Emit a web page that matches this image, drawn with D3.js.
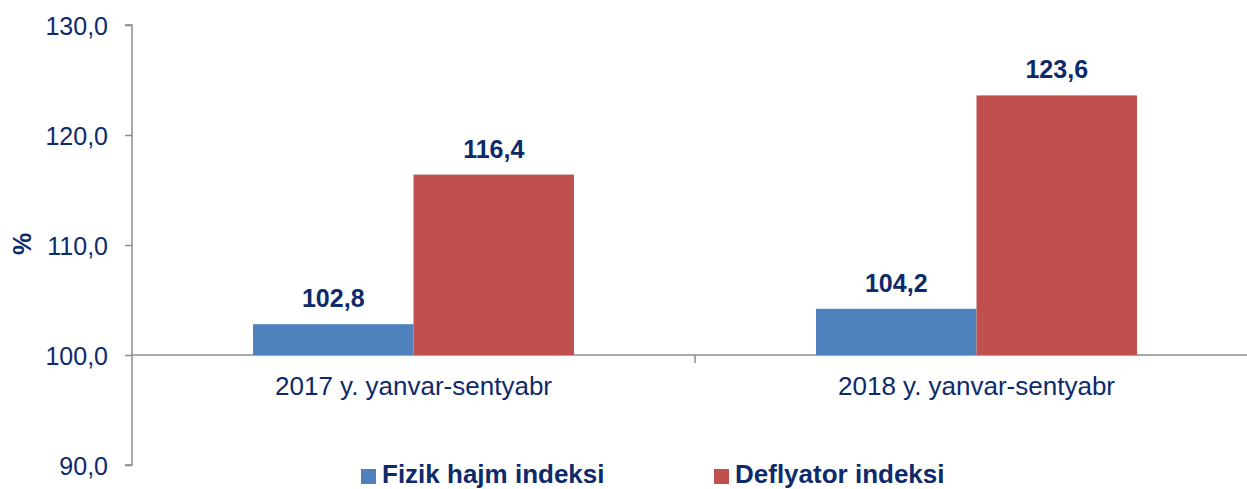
<!DOCTYPE html>
<html><head><meta charset="utf-8">
<script src="https://cdn.jsdelivr.net/npm/d3@7"></script>
<style>body{margin:0;background:#fff}svg{display:block;font-family:"Liberation Sans",Arial,sans-serif}</style>
</head><body><svg id="c" width="1247" height="489"></svg>
<script>
const categories = ["2017 y. yanvar-sentyabr", "2018 y. yanvar-sentyabr"];
const seriesNames = ["Fizik hajm indeksi", "Deflyator indeksi"];
const fizik = [102.8, 104.2];
const deflyator = [116.4, 123.6];
const yTicks = [90, 100, 110, 120, 130];
const colors = ["#4f81bd", "#c0504d"];
const navy = "#0d2a6b";
const axisColor = "#8c8c8c";

const svg = d3.select("#c");
const x0 = 132, x1 = 1258;
const y = d3.scaleLinear().domain([90, 130]).range([465, 25]);
const xb = d3.scaleBand().domain(categories).range([x0, x1]).paddingInner(0).paddingOuter(0);
const groupW = 321;
const xs = d3.scaleBand().domain(seriesNames).range([0, groupW]);
const fmt = v => d3.format(".1f")(v).replace(".", ",");

// y axis
const yAxis = d3.axisLeft(y).tickValues(yTicks).tickSize(7).tickFormat(fmt);
const ga = svg.append("g").attr("transform", `translate(${x0},0)`).call(yAxis);
ga.select(".domain").attr("stroke", axisColor).attr("stroke-width", 1.5).attr("d", `M-7,${y(130)}H0V${y(90)}H-7`);
ga.selectAll(".tick line").attr("stroke", axisColor).attr("stroke-width", 1.5);
ga.selectAll(".tick text").attr("fill", navy).attr("font-size", 25).attr("x", -24).attr("dy", "0.37em");

// baseline at 100
svg.append("line").attr("x1", x0).attr("x2", 1247).attr("y1", y(100)).attr("y2", y(100))
  .attr("stroke", axisColor).attr("stroke-width", 1.5);
svg.append("line").attr("x1", xb(categories[1])).attr("x2", xb(categories[1]))
  .attr("y1", y(100)).attr("y2", y(100) + 8).attr("stroke", axisColor).attr("stroke-width", 1.5);

// bars
const data = [fizik, deflyator];
categories.forEach((c, i) => {
  const gx = xb(c) + (xb.bandwidth() - groupW) / 2;
  seriesNames.forEach((s, j) => {
    const v = data[j][i];
    svg.append("rect").attr("x", gx + xs(s)).attr("width", xs.bandwidth())
      .attr("y", y(v)).attr("height", y(100) - y(v)).attr("fill", colors[j]);
    svg.append("text").attr("x", gx + xs(s) + xs.bandwidth() / 2).attr("y", y(v) - 17)
      .attr("text-anchor", "middle").attr("fill", navy).attr("font-size", 25).attr("font-weight", "bold")
      .text(fmt(v));
  });
  svg.append("text").attr("x", xb(c) + xb.bandwidth() / 2).attr("y", 395)
    .attr("text-anchor", "middle").attr("fill", navy).attr("font-size", 26).text(c);
});

// y title
svg.append("text").attr("transform", "translate(31,244) rotate(-90)").attr("text-anchor", "middle")
  .attr("fill", navy).attr("font-size", 25).attr("font-weight", "bold").text("%");

// legend
const legX = [361, 714];
seriesNames.forEach((s, j) => {
  svg.append("rect").attr("x", legX[j]).attr("y", 469).attr("width", 15).attr("height", 15).attr("fill", colors[j]);
  svg.append("text").attr("x", legX[j] + 21).attr("y", 483).attr("fill", navy)
    .attr("font-size", 26).attr("font-weight", "bold").text(s);
});
</script></body></html>
